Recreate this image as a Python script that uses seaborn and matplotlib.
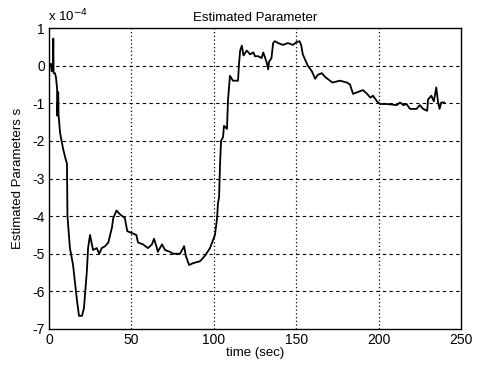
import matplotlib
matplotlib.use("Agg")
import matplotlib.pyplot as plt
import seaborn as sns
import pandas as pd

time_sec = [0.8, 1.2, 1.6, 2.4, 2.6, 2.8, 3.6, 4.2, 4.9, 5.0, 5.6, 5.8, 6.7, 8.5, 10.0, 10.9,
            11.2, 12.7, 14.6, 17.0, 18.2, 20.0, 21.2, 23.0, 23.7, 24.9, 26.0, 26.7, 29.0, 30.5,
            32.0, 34.0, 36.0, 38.2, 39.0, 41.0, 43.0, 46.0, 47.5, 50.3, 53.0, 54.0, 57.0, 60.0,
            62.5, 63.7, 65.5, 66.0, 68.6, 70.4, 73.4, 75.3, 79.5, 82.0, 83.0, 85.0, 87.4, 91.6,
            94.7, 97.7, 100.7, 102.0, 102.5, 103.2, 103.8, 104.4, 105.6, 106.2, 108.0, 108.6,
            109.8, 111.6, 114.7, 115.3, 116.0, 117.0, 118.0, 120.0, 122.0, 124.0, 125.0, 127.0,
            129.0, 130.0, 132.0, 133.0, 133.5, 135.0, 136.0, 137.0, 139.0, 142.0, 145.0, 148.0,
            150.0, 152.0, 153.0, 154.0, 155.5, 157.0, 159.5, 161.5, 163.0, 165.5, 167.5, 169.0,
            172.0, 176.5, 180.8, 182.6, 184.5, 187.5, 190.5, 193.0, 195.0, 196.6, 199.0, 201.0,
            205.0, 211.0, 213.0, 215.0, 217.0, 219.0, 223.0, 225.0, 227.0, 229.5, 230.0, 232.0,
            233.5, 235.0, 236.0, 237.0, 238.0, 240.0]
param_e4 = [0.0, 0.05, -0.15, 0.0, 0.72, -0.2, -0.2, -0.3, -0.6, -1.33, -0.7, -1.3, -1.78, -2.2, -2.47, -2.6,
            -4.0, -4.85, -5.3, -6.25, -6.65, -6.65, -6.45, -5.45, -4.85, -4.5, -4.75, -4.9, -4.85, -5.0,
            -4.85, -4.8, -4.7, -4.3, -4.05, -3.85, -3.95, -4.05, -4.4, -4.45, -4.5, -4.7, -4.75, -4.85,
            -4.75, -4.6, -4.85, -4.95, -4.75, -4.9, -4.95, -5.0, -5.0, -4.8, -5.05, -5.3, -5.25, -5.2,
            -5.05, -4.85, -4.5, -4.05, -3.67, -3.5, -2.6, -2.0, -1.9, -1.6, -1.68, -0.93,
            -0.27, -0.4, -0.4, 0.05, 0.4, 0.53, 0.27, 0.4, 0.3, 0.35, 0.25, 0.25,
            0.2, 0.35, 0.1, -0.1, 0.1, 0.2, 0.6, 0.65, 0.6, 0.55, 0.6, 0.55,
            0.62, 0.65, 0.55, 0.3, 0.15, 0.0, -0.15, -0.35, -0.25, -0.2, -0.3, -0.35,
            -0.45, -0.4, -0.45, -0.5, -0.75, -0.7, -0.65, -0.75, -0.85, -0.8, -0.95, -1.02,
            -1.02, -1.05, -0.98, -1.05, -1.02, -1.15, -1.15, -1.05, -1.15, -1.2, -0.9, -0.8,
            -0.95, -0.58, -0.95, -1.15, -0.98, -0.98]

x_ticks = [0, 50, 100, 150, 200, 250]
y_ticks = [-7, -6, -5, -4, -3, -2, -1, 0, 1]

sns.set_style("white")
plt.rcParams['font.family'] = ['Liberation Sans', 'DejaVu Sans']
plt.rcParams['text.color'] = 'black'
plt.rcParams['axes.labelcolor'] = 'black'

df = pd.DataFrame({"t": time_sec, "v": param_e4})

fig = plt.figure(figsize=(4.78, 3.67), dpi=100)
ax = fig.add_axes([49/478, 1-329/367, (461-49)/478, (329-28)/367])
sns.lineplot(data=df, x="t", y="v", ax=ax, color="black", linewidth=1.3, sort=False)

ax.set_xlim(0, 250)
ax.set_ylim(-7, 1)
ax.set_xticks(x_ticks)
ax.set_yticks(y_ticks)
ax.set_xticklabels([str(v) for v in x_ticks], fontsize=10)
ax.set_yticklabels([str(v) for v in y_ticks], fontsize=10)
ax.tick_params(direction="in", length=3, width=0.8, color="black", pad=3, labelcolor="black")

for yv in y_ticks[1:-1]:
    ax.axhline(yv, color="black", linewidth=0.8, linestyle=(0, (3, 3)), zorder=0)
for xv in x_ticks[1:-1]:
    ax.axvline(xv, color="black", linewidth=0.9, linestyle=(0, (1, 2)), zorder=0)

for s in ax.spines.values():
    s.set_color("black")
    s.set_linewidth(1.0)

ax.set_title("Estimated Parameter", fontsize=9.5, pad=5, color="black")
ax.set_xlabel("time (sec)", fontsize=9.5, labelpad=0)
ax.set_ylabel("Estimated Parameters s", fontsize=9.5, labelpad=6)
ax.text(-0.002, 1.012, r"x 10$^{-4}$", transform=ax.transAxes, fontsize=9.5, ha="left", va="bottom")

fig.savefig("out.png", dpi=100)
